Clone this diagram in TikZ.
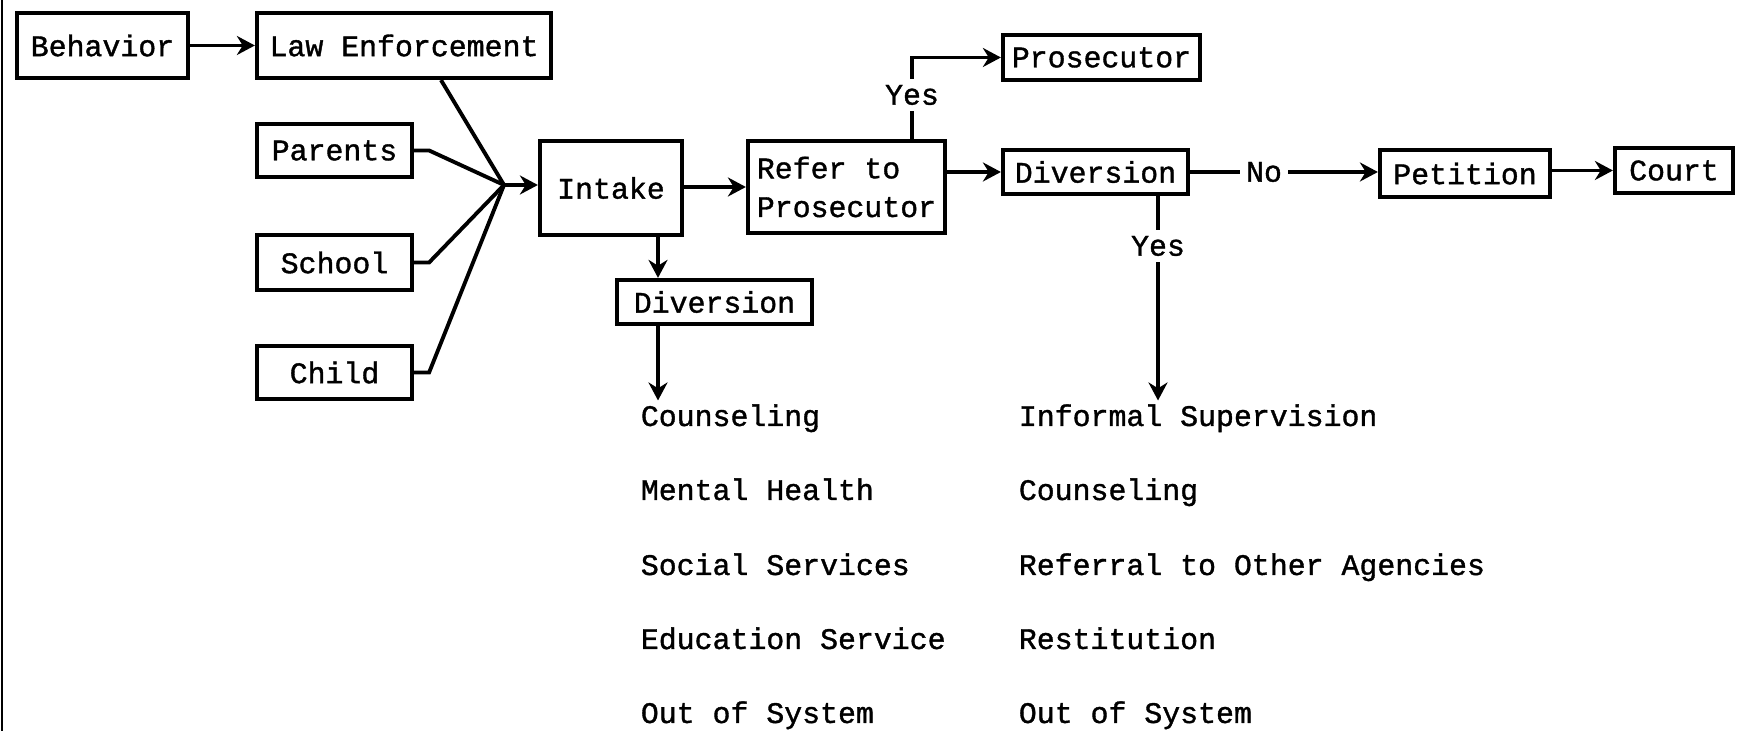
\documentclass[tikz,border=0pt]{standalone}
\usepackage{fontspec}
\usetikzlibrary{arrows.meta,calc,positioning}
\newfontfamily\typewriter[FakeBold=1.2]{Liberation Mono}
\tikzset{
  every node/.style={font=\typewriter\fontsize{17}{22}\selectfont, text=black},
  stage/.style={draw=black, line width=2.4pt, inner sep=2pt},
  link/.style={draw=black, line width=2.2pt},
  flow/.style={link, -{Stealth[length=3.6mm,width=3.8mm]}},
  outcome/.style={anchor=base west, inner sep=2pt},
}
\begin{document}
\begin{tikzpicture}[x=1cm,y=1cm]
  \useasboundingbox (0,0) rectangle (34.76,14.62);
  % page edge on the left
  \draw[line width=1.4pt] (0.04,0) -- (0.04,14.62);

  % Sources of referral
  \node[stage, minimum width=3.42cm, minimum height=1.3cm] (behavior) at (2.05,13.71) {Behavior};
  \node[stage, minimum width=5.88cm, minimum height=1.3cm] (law) at (8.08,13.71) {Law Enforcement};
  \node[stage, minimum width=3.1cm, minimum height=1.06cm] (parents) at (6.69,11.61) {Parents};
  \node[stage, minimum width=3.1cm, minimum height=1.1cm] (school) at (6.69,9.37) {School};
  \node[stage, minimum width=3.1cm, minimum height=1.06cm] (child) at (6.69,7.17) {Child};
  \coordinate (merge) at (10.08,10.92);

  % Main path
  \node[stage, minimum width=2.84cm, minimum height=1.88cm] (intake) at (12.22,10.86) {Intake};
  \node[stage, minimum width=3.94cm, minimum height=1.84cm, align=left, inner sep=1pt] (refer) at (16.93,10.88) {Refer to\\Prosecutor};
  \node[stage, minimum width=3.94cm, minimum height=0.9cm] (prosecutor) at (22.03,13.47) {Prosecutor};
  \node[stage, minimum width=3.7cm, minimum height=0.88cm] (divright) at (21.91,11.18) {Diversion};
  \node[stage, minimum width=3.4cm, minimum height=0.94cm] (petition) at (29.3,11.15) {Petition};
  \node[stage, minimum width=2.36cm, minimum height=0.9cm] (court) at (33.48,11.21) {Court};
  \node[stage, minimum width=3.9cm, minimum height=0.88cm] (divleft) at (14.29,8.58) {Diversion};

  % Decision labels
  \node (yestop) at (18.24,12.72) {Yes};
  \node (yesright) at (23.16,9.7) {Yes};
  \node (no) at (25.28,11.18) {No};

  % Diversion outcomes
  \node[outcome] (lcouns) at (12.74,6.10) {Counseling};
  \node[outcome] (lmental) at (12.74,4.62) {Mental Health};
  \node[outcome] (lsocial) at (12.74,3.12) {Social Services};
  \node[outcome] (leduc) at (12.74,1.64) {Education Service};
  \node[outcome] (lout) at (12.74,0.16) {Out of System};
  \node[outcome] (rinformal) at (20.3,6.10) {Informal Supervision};
  \node[outcome] (rcouns) at (20.3,4.62) {Counseling};
  \node[outcome] (rreferral) at (20.3,3.12) {Referral to Other Agencies};
  \node[outcome] (rrestit) at (20.3,1.64) {Restitution};
  \node[outcome] (rout) at (20.3,0.16) {Out of System};

  % Connectors
  \draw[flow] (behavior) -- (law);
  \draw[link] ([xshift=0.74cm]law.south) -- (merge);
  \draw[link] (parents.east) -- ++(0.3,0) -- (merge);
  \draw[link] (school.east) -- ++(0.3,0) -- (merge);
  \draw[link] (child.east) -- ++(0.3,0) -- (merge);
  \draw[flow] (merge) -- (merge -| intake.west);
  \draw[flow] (intake.east |- refer) -- (refer);
  \draw[link] (yestop |- refer.north) -- (yestop);
  \draw[flow] (yestop) |- (prosecutor);
  \draw[flow] (refer.east |- divright) -- (divright);
  \draw[link] (divright) -- (no);
  \draw[flow] (no) -- (no -| petition.west);
  \draw[flow] (petition.east |- court) -- (court);
  \draw[link] (yesright |- divright.south) -- (yesright);
  \draw[flow] (yesright) -- (yesright |- rinformal.north);
  \coordinate (lcol) at (13.16,0);
  \draw[flow] (intake.south -| lcol) -- (divleft.north -| lcol);
  \draw[flow] (divleft.south -| lcol) -- (lcouns.north -| lcol);
\end{tikzpicture}
\end{document}
